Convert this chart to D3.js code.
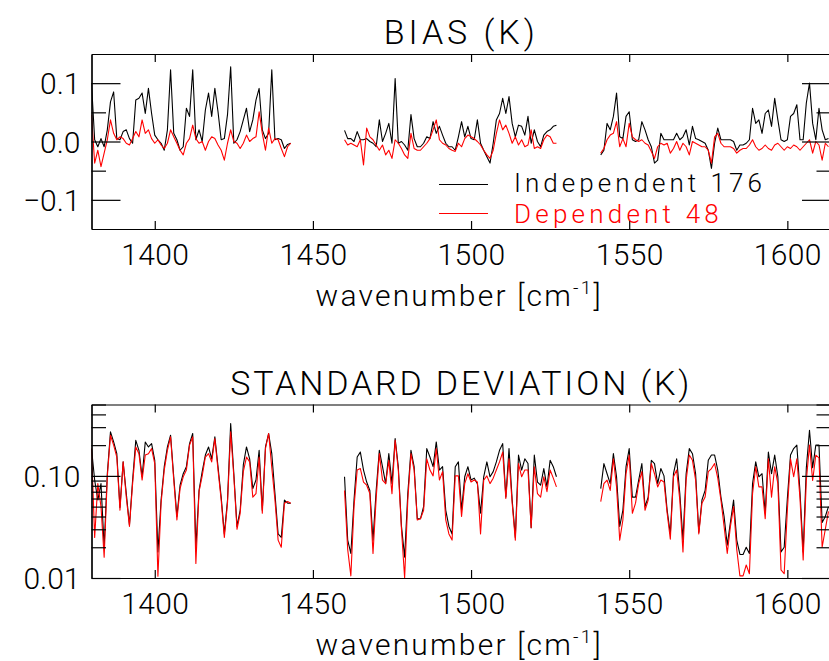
<!DOCTYPE html>
<html><head><meta charset="utf-8">
<script src="https://cdn.jsdelivr.net/npm/d3@7"></script>
<style>
body{margin:0;background:#fff}
svg{display:block}
text{font-family:"Roboto","DejaVu Sans",sans-serif;font-weight:300;fill:#000}
</style>
</head><body>
<svg id="c" width="829" height="661"></svg>
<script>
// ---------- categories (wavenumber, cm-1) ----------
const wnSeg1 = d3.range(1380, 1444, 1);   // 1380..1443
const wnSeg2 = d3.range(1460, 1528, 1);   // 1460..1527
const wnSeg3 = d3.range(1541, 1614, 1);   // 1541..1613

// ---------- BIAS (K) ----------
const biasIndep1 = [0.100,0.003,-0.009,0.005,-0.009,0.020,0.068,0.085,0.005,0.003,0.017,0.020,0.005,-0.003,0.071,0.074,0.083,0.048,0.091,0.048,0.011,0.003,-0.003,-0.015,0.020,0.123,0.014,0.003,-0.015,-0.009,0.057,0.043,0.123,0.003,0.020,0.000,0.054,0.083,0.043,0.091,0.051,0.003,0.005,0.046,0.128,-0.003,0.003,0.017,0.037,0.057,0.017,0.037,0.071,0.091,0.020,0.005,0.014,0.123,0.003,0.005,0.003,-0.012,-0.005,-0.003];
const biasDep1 = [0.046,-0.037,-0.015,-0.043,-0.020,0.003,0.037,0.014,0.003,0.008,0.005,-0.003,-0.006,0.005,0.017,0.008,0.037,0.014,0.020,0.005,-0.003,0.003,-0.006,-0.012,-0.003,0.020,0.008,-0.003,-0.015,-0.023,-0.003,0.005,0.028,0.005,-0.003,0.000,-0.015,0.000,0.008,0.005,-0.006,-0.015,-0.032,-0.003,0.020,0.000,-0.003,-0.012,-0.003,0.011,0.000,0.005,0.008,0.051,0.014,-0.015,0.023,-0.003,0.005,0.003,-0.012,-0.026,-0.009,-0.003];
const biasIndep2 = [0.019,0.005,0.005,0.000,0.017,0.003,0.003,0.005,0.000,-0.003,-0.009,0.037,0.000,0.014,0.031,-0.003,0.108,-0.003,0.000,-0.006,-0.015,0.046,0.005,-0.009,-0.009,-0.003,0.008,0.005,0.034,0.014,0.026,0.011,-0.003,-0.009,-0.009,-0.015,0.008,0.034,0.008,0.026,0.005,0.003,0.037,-0.003,-0.015,-0.026,-0.037,-0.003,0.037,0.048,0.074,0.048,0.077,0.031,0.008,0.028,0.026,0.011,0.043,-0.003,0.020,0.000,-0.009,0.011,0.017,0.020,0.026,0.028];
const biasDep2 = [0.003,-0.006,-0.003,-0.006,-0.009,0.003,-0.040,0.023,0.008,0.003,-0.006,-0.015,-0.006,-0.023,-0.015,-0.029,0.003,-0.003,-0.012,-0.023,-0.029,0.014,-0.012,-0.015,-0.015,-0.009,-0.003,0.005,0.020,0.037,0.003,-0.003,-0.006,-0.012,-0.015,-0.017,-0.003,-0.009,0.005,0.011,0.008,0.005,0.000,-0.006,-0.015,-0.023,-0.029,-0.015,0.014,0.037,0.020,0.028,0.014,-0.003,0.008,-0.006,0.003,-0.009,-0.006,0.020,-0.012,-0.009,-0.012,0.003,0.011,0.008,-0.003,-0.003];
const biasIndep3 = [-0.023,-0.015,0.031,0.020,0.043,0.083,0.008,0.005,0.043,0.051,0.003,0.000,0.003,0.034,0.020,0.003,-0.009,-0.037,-0.032,0.014,0.003,0.003,0.003,0.003,0.014,0.003,0.008,0.020,-0.006,0.026,0.005,0.003,0.000,-0.003,-0.015,-0.046,-0.003,0.023,0.003,0.003,0.003,0.003,0.000,-0.015,-0.006,-0.006,-0.003,0.003,0.057,0.031,0.037,0.014,0.048,0.054,0.026,0.074,0.037,0.003,0.000,0.003,0.043,0.048,0.063,0.003,0.003,0.066,0.100,0.031,0.003,0.057,0.020,0.003,0.005];
const biasDep3 = [-0.020,-0.012,0.003,0.011,0.014,0.034,-0.009,0.005,-0.009,0.031,0.008,0.003,0.000,0.003,-0.003,-0.006,-0.017,-0.029,-0.009,-0.003,-0.006,-0.003,-0.020,-0.012,0.000,-0.015,-0.003,-0.009,-0.023,0.000,-0.003,-0.006,-0.009,-0.009,-0.015,-0.037,0.008,0.014,-0.003,-0.009,-0.009,-0.009,-0.012,-0.020,-0.015,-0.012,-0.012,-0.006,0.003,-0.009,-0.015,-0.012,-0.006,-0.012,-0.015,-0.006,-0.003,-0.009,-0.015,-0.009,-0.012,-0.006,-0.009,-0.015,-0.009,-0.003,0.003,-0.020,0.000,-0.006,-0.032,-0.003,-0.009];

// ---------- STANDARD DEVIATION (K) ----------
const sdIndep1 = [0.185,0.091,0.058,0.084,0.020,0.105,0.270,0.215,0.165,0.049,0.137,0.067,0.033,0.091,0.223,0.178,0.098,0.215,0.192,0.207,0.142,0.018,0.058,0.123,0.192,0.250,0.098,0.040,0.081,0.105,0.123,0.207,0.260,0.020,0.072,0.110,0.160,0.192,0.147,0.241,0.123,0.062,0.027,0.058,0.325,0.105,0.032,0.046,0.128,0.192,0.147,0.075,0.091,0.178,0.046,0.192,0.260,0.165,0.067,0.027,0.025,0.058,0.054,0.054];
const sdDep1 = [0.185,0.025,0.084,0.050,0.016,0.098,0.250,0.200,0.153,0.046,0.137,0.062,0.032,0.084,0.192,0.165,0.091,0.160,0.165,0.185,0.132,0.0104,0.054,0.114,0.178,0.241,0.091,0.037,0.075,0.098,0.114,0.200,0.241,0.0139,0.070,0.100,0.153,0.165,0.137,0.232,0.114,0.058,0.025,0.054,0.270,0.098,0.030,0.043,0.110,0.153,0.137,0.062,0.067,0.153,0.043,0.185,0.260,0.120,0.058,0.0235,0.020,0.054,0.056,0.054];
const sdIndep2 = [0.098,0.0235,0.0174,0.058,0.153,0.171,0.114,0.087,0.072,0.0235,0.072,0.178,0.123,0.084,0.165,0.084,0.232,0.123,0.032,0.016,0.067,0.178,0.123,0.038,0.038,0.050,0.185,0.153,0.123,0.215,0.114,0.123,0.046,0.032,0.027,0.123,0.137,0.046,0.098,0.123,0.091,0.095,0.084,0.043,0.098,0.137,0.098,0.110,0.137,0.178,0.207,0.062,0.185,0.058,0.025,0.160,0.114,0.147,0.132,0.031,0.160,0.087,0.081,0.118,0.078,0.142,0.123,0.098];
const sdDep2 = [0.072,0.019,0.0105,0.050,0.114,0.118,0.087,0.081,0.067,0.0174,0.060,0.165,0.091,0.084,0.142,0.067,0.223,0.114,0.030,0.010,0.058,0.165,0.114,0.037,0.038,0.046,0.147,0.114,0.100,0.185,0.091,0.110,0.037,0.027,0.0235,0.100,0.100,0.040,0.084,0.105,0.087,0.091,0.087,0.027,0.091,0.100,0.084,0.095,0.114,0.137,0.171,0.060,0.147,0.054,0.0235,0.132,0.098,0.114,0.114,0.031,0.123,0.067,0.062,0.098,0.070,0.114,0.095,0.078];
const sdIndep3 = [0.075,0.132,0.105,0.084,0.165,0.098,0.032,0.046,0.123,0.185,0.062,0.062,0.091,0.132,0.050,0.062,0.142,0.132,0.084,0.118,0.100,0.046,0.027,0.105,0.147,0.067,0.0235,0.105,0.185,0.165,0.105,0.028,0.058,0.072,0.142,0.160,0.160,0.114,0.062,0.040,0.021,0.035,0.058,0.0235,0.017,0.017,0.020,0.0174,0.084,0.137,0.098,0.105,0.043,0.171,0.105,0.160,0.098,0.018,0.020,0.060,0.160,0.185,0.200,0.070,0.018,0.120,0.280,0.120,0.200,0.200,0.035,0.040,0.050];
const sdDep3 = [0.056,0.084,0.091,0.072,0.147,0.078,0.0235,0.037,0.105,0.160,0.043,0.054,0.084,0.110,0.046,0.058,0.132,0.105,0.078,0.091,0.087,0.043,0.024,0.098,0.114,0.058,0.018,0.091,0.160,0.142,0.091,0.027,0.054,0.062,0.110,0.118,0.132,0.095,0.058,0.032,0.0174,0.032,0.050,0.019,0.0105,0.0105,0.0134,0.011,0.067,0.123,0.078,0.078,0.038,0.147,0.062,0.123,0.084,0.012,0.011,0.046,0.147,0.098,0.147,0.060,0.015,0.090,0.200,0.090,0.160,0.150,0.020,0.030,0.045];

// ---------- axis ticks / text ----------
const xTicks = [1400, 1450, 1500, 1550, 1600];
const biasTicks = [-0.1, 0.0, 0.1];
const biasTickLabels = ["\u22120.1", "0.0", "0.1"];
const biasMinorTicks = [-0.05, 0.05];
const sdTicks = [0.01, 0.1];
const sdTickLabels = ["0.01", "0.10"];
const sdMinorTicks = [0.02,0.03,0.04,0.05,0.06,0.07,0.08,0.09,0.2,0.3,0.4,0.5];
const seriesNames = ["Independent 176", "Dependent 48"];
const seriesColors = ["#000000", "#ff0000"];

// ---------- layout ----------
const X0 = 91.5, X1 = 831;
const x = d3.scaleLinear().domain([1380, 1613.8]).range([X0, X1]);
const svg = d3.select("#c");

const segWn = [wnSeg1, wnSeg2, wnSeg3];
const panels = [
  {title: "BIAS (K)", titleW: 155, top: 54, bottom: 229,
   y: d3.scaleLinear().domain([-0.15, 0.15]).range([229, 54]),
   ticks: biasTicks, labels: biasTickLabels, minor: biasMinorTicks,
   series: [[biasIndep1, biasIndep2, biasIndep3], [biasDep1, biasDep2, biasDep3]]},
  {title: "STANDARD DEVIATION (K)", titleW: 462, top: 404.5, bottom: 578,
   y: d3.scaleLog().domain([0.01, 0.5]).range([578, 404.5]),
   ticks: sdTicks, labels: sdTickLabels, minor: sdMinorTicks,
   series: [[sdIndep1, sdIndep2, sdIndep3], [sdDep1, sdDep2, sdDep3]]}
];

function fitWidth(sel, target) {
  const node = sel.node();
  const n = sel.text().length;
  const w = node.getComputedTextLength();
  if (n > 1) sel.style("letter-spacing", ((target - w) / n) + "px");
}

panels.forEach((p, pi) => {
  const g = svg.append("g");
  const clipId = "clip" + pi;
  svg.append("defs").append("clipPath").attr("id", clipId)
    .append("rect").attr("x", X0).attr("y", p.top).attr("width", X1 - X0).attr("height", p.bottom - p.top);

  const line = d3.line().x(d => x(d[0])).y(d => p.y(d[1]));
  const lines = g.append("g").attr("clip-path", `url(#${clipId})`);
  p.series.forEach((segs, si) => {
    segs.forEach((vals, k) => {
      const pts = segWn[k].map((w, i) => [w, vals[i]]);
      lines.append("path").attr("d", line(pts))
        .attr("fill", "none").attr("stroke", seriesColors[si])
        .attr("stroke-width", 1.1).attr("stroke-linejoin", "round");
    });
  });

  // x axes (bottom with labels, top without)
  const xb = g.append("g").attr("transform", `translate(0,${p.bottom})`)
    .call(d3.axisBottom(x).tickValues(xTicks).tickSize(-8).tickSizeOuter(0).tickFormat(d3.format("d")));
  xb.selectAll(".tick text").attr("y", 36).attr("dy", null)
    .attr("font-size", 30).attr("fill", "#000").style("font-family", null)
    .each(function(){ fitWidth(d3.select(this), 68); });
  g.append("g").attr("transform", `translate(0,${p.top})`)
    .call(d3.axisTop(x).tickValues(xTicks).tickSize(-8).tickSizeOuter(0).tickFormat(""));

  // y axes left (labels) and right
  const yl = g.append("g").attr("transform", `translate(${X0},0)`)
    .call(d3.axisLeft(p.y).tickValues(p.ticks).tickSize(-29).tickSizeOuter(0).tickPadding(11)
      .tickFormat((d, i) => p.labels[i]));
  yl.selectAll(".tick text").attr("font-size", 30).attr("fill", "#000").attr("dy", "0.36em").style("font-family", null);
  g.append("g").attr("transform", `translate(${X0},0)`)
    .call(d3.axisLeft(p.y).tickValues(p.minor).tickSize(-14.5).tickSizeOuter(0).tickFormat(""));
  g.append("g").attr("transform", `translate(${X1},0)`)
    .call(d3.axisRight(p.y).tickValues(p.ticks).tickSize(-29).tickSizeOuter(0).tickFormat(""));
  g.append("g").attr("transform", `translate(${X1},0)`)
    .call(d3.axisRight(p.y).tickValues(p.minor).tickSize(-14.5).tickSizeOuter(0).tickFormat(""));

  g.selectAll(".domain, .tick line").attr("stroke", "#000").attr("stroke-width", 1.2);

  // title
  const t = g.append("text").attr("x", (X0 + X1) / 2).attr("y", p.top - 10)
    .attr("text-anchor", "middle").attr("font-size", 34).text(p.title);
  fitWidth(t, p.titleW);

  // x-axis title
  const xl = g.append("text").attr("x", (X0 + X1) / 2 - 2).attr("y", p.bottom + 77)
    .attr("text-anchor", "middle").attr("font-size", 30);
  xl.append("tspan").text("wavenumber [cm");
  xl.append("tspan").attr("font-size", 19).attr("dy", -12).text("-1");
  xl.append("tspan").attr("dy", 12).text("]");
  xl.style("letter-spacing", "2.2px");
});

// legend (in BIAS panel)
const legendY = [184.5, 213.5];
const legendTextY = [192, 223];
const legendW = [252, 209];
seriesNames.forEach((name, i) => {
  svg.append("line").attr("x1", 439).attr("x2", 488).attr("y1", legendY[i]).attr("y2", legendY[i])
    .attr("stroke", seriesColors[i]).attr("stroke-width", 1.2);
  const t = svg.append("text").attr("x", 514).attr("y", legendTextY[i])
    .attr("font-size", 26).style("fill", seriesColors[i]).text(name);
  fitWidth(t, legendW[i]);
});
</script>
</body></html>
